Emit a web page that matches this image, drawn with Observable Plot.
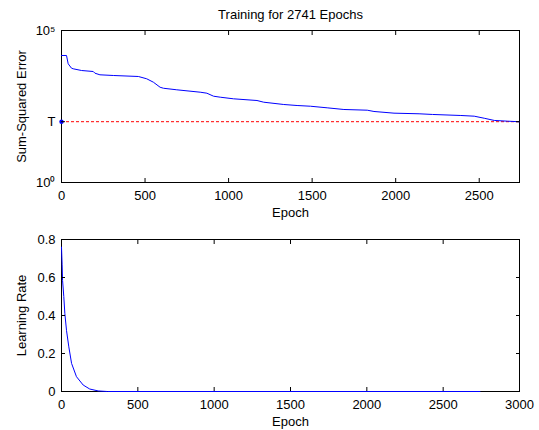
<!DOCTYPE html>
<html>
<head>
<meta charset="utf-8">
<script src="https://cdn.jsdelivr.net/npm/d3@7"></script>
<script src="https://cdn.jsdelivr.net/npm/@observablehq/plot@0.6"></script>
<style>
  html, body { margin: 0; padding: 0; background: #fff; }
  #chart { width: 539px; height: 430px; overflow: hidden; }
  #chart svg { display: block; }
</style>
</head>
<body>
<div id="chart"></div>
<script>
// ---- data ----
const title = "Training for 2741 Epochs";
const totalEpochs = 2741;
const goal = 100;

const sseEpochs = [0, 30, 40, 60, 70, 120, 190, 200, 230, 310, 460, 510, 550, 590, 610, 690, 830, 870, 910, 950,
  1030, 1170, 1210, 1330, 1410, 1490, 1590, 1690, 1830, 1870, 1990, 2140, 2220, 2390, 2470, 2530, 2590, 2670, 2741];
const sseValues = [15060, 15060, 8030, 5750, 5500, 4830, 4480, 3940, 3490, 3310, 3070, 2580, 1990, 1360, 1260, 1120, 934, 866, 690, 640,
  566, 498, 438, 368, 341, 323, 286, 252, 239, 217, 191, 182, 173, 160, 152, 130, 110, 104, 99.5];

const lrEpochs = [0, 4, 7, 15, 22, 33, 48, 66, 98, 142, 185, 240, 300, 2741];
const lrValues = [0.76, 0.67, 0.585, 0.5, 0.41, 0.32, 0.235, 0.148, 0.078, 0.034, 0.013, 0.003, 0, 0];

const xTicksTop = [0, 500, 1000, 1500, 2000, 2500];
const yTicksTop = [1, goal, 100000];
const yTickLabelsTop = ["10\u2070", "T", "10\u2075"];
const xTicksBottom = [0, 500, 1000, 1500, 2000, 2500, 3000];
const yTicksBottom = [0, 0.2, 0.4, 0.6, 0.8];

const xLabel = "Epoch";
const yLabelTop = "Sum-Squared Error";
const yLabelBottom = "Learning Rate";

const sseData = sseEpochs.map((e, i) => ({epoch: e, sse: sseValues[i]}));
const lrData = lrEpochs.map((e, i) => ({epoch: e, lr: lrValues[i]}));

const font = "Liberation Sans, Arial, Helvetica, sans-serif";
const style = {fontFamily: font, fontSize: "13px", background: "#fff", color: "#000", overflow: "visible"};
const blank = () => "";
const plain = d => String(d);

const topPlot = Plot.plot({
  width: 539, height: 215,
  marginTop: 30, marginBottom: 33, marginLeft: 61, marginRight: 20,
  style,
  x: {domain: [0, totalEpochs]},
  y: {type: "log", domain: [1, 100000]},
  marks: [
    Plot.frame({stroke: "#000"}),
    Plot.ruleY([goal], {x1: 0, x2: totalEpochs, stroke: "#ff0000", strokeDasharray: "3,2"}),
    Plot.line(sseData, {x: "epoch", y: "sse", stroke: "#0000ff", strokeWidth: 1}),
    Plot.dot([goal], {x: 0, y: d => d, r: 2.2, fill: "#0000ff", stroke: null}),
    Plot.axisX(xTicksTop, {anchor: "bottom", tickSize: -4, tickPadding: 12, label: null, fontSize: 13, tickFormat: plain}),
    Plot.axisX(xTicksTop, {anchor: "top", tickSize: -4, tickFormat: blank, label: null}),
    Plot.axisY(yTicksTop, {anchor: "left", tickSize: -4, tickPadding: 10, label: null, fontSize: 13,
      tickFormat: d => yTickLabelsTop[yTicksTop.indexOf(d)]}),
    Plot.axisY(yTicksTop, {anchor: "right", tickSize: -4, tickFormat: blank, label: null}),
    Plot.text([title], {frameAnchor: "top", dy: -16, lineAnchor: "middle", textAnchor: "middle", fontSize: 13}),
    Plot.text([xLabel], {frameAnchor: "bottom", dy: 30, lineAnchor: "middle", textAnchor: "middle", fontSize: 13}),
    Plot.text([yLabelTop], {frameAnchor: "left", dx: -40, rotate: -90, lineAnchor: "middle", textAnchor: "middle", fontSize: 13})
  ]
});

const bottomPlot = Plot.plot({
  width: 539, height: 215,
  marginTop: 24, marginBottom: 39, marginLeft: 61, marginRight: 20,
  style,
  x: {domain: [0, 3000]},
  y: {domain: [0, 0.8]},
  marks: [
    Plot.frame({stroke: "#000"}),
    Plot.line(lrData, {x: "epoch", y: "lr", stroke: "#0000ff", strokeWidth: 1}),
    Plot.axisX(xTicksBottom, {anchor: "bottom", tickSize: -4, tickPadding: 12, label: null, fontSize: 13, tickFormat: plain}),
    Plot.axisX(xTicksBottom, {anchor: "top", tickSize: -4, tickFormat: blank, label: null}),
    Plot.axisY(yTicksBottom, {anchor: "left", tickSize: -4, tickPadding: 10, label: null, fontSize: 13, tickFormat: plain}),
    Plot.axisY(yTicksBottom, {anchor: "right", tickSize: -4, tickFormat: blank, label: null}),
    Plot.text([xLabel], {frameAnchor: "bottom", dy: 30, lineAnchor: "middle", textAnchor: "middle", fontSize: 13}),
    Plot.text([yLabelBottom], {frameAnchor: "left", dx: -40, rotate: -90, lineAnchor: "middle", textAnchor: "middle", fontSize: 13})
  ]
});

const chart = document.getElementById("chart");
chart.appendChild(topPlot);
chart.appendChild(bottomPlot);
</script>
</body>
</html>
